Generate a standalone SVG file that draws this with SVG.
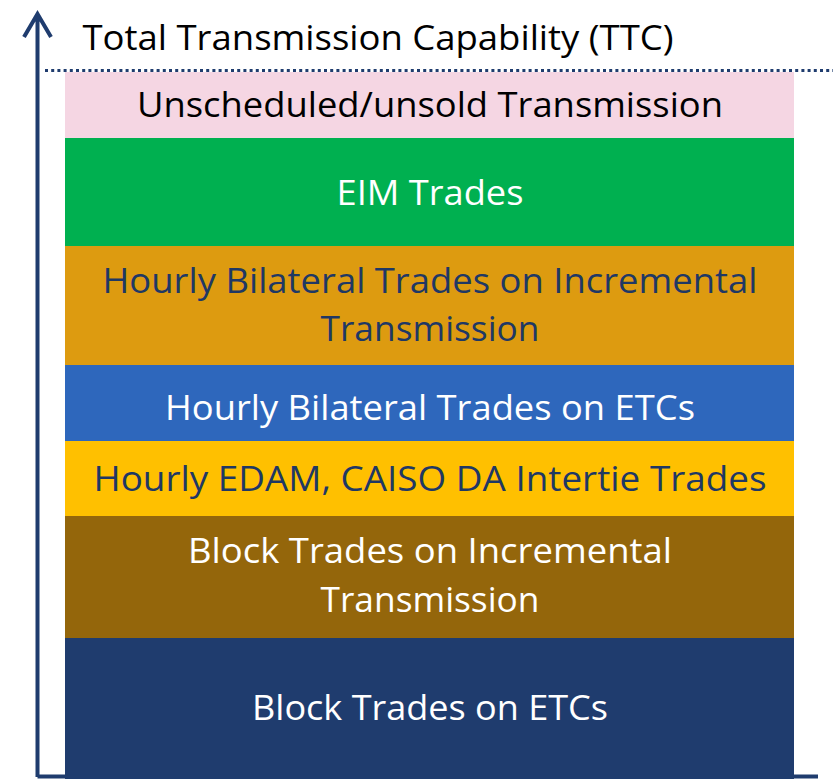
<svg xmlns="http://www.w3.org/2000/svg" width="833" height="779" viewBox="0 0 833 779">
<defs>
<style>
text{font-family:"Open Sans","Liberation Sans",sans-serif;font-size:34px;text-anchor:middle}
.w{fill:#FFFFFF}.n{fill:#1F3864}.k{fill:#000000}
.axis{stroke:#1F3C6E;stroke-width:4;fill:none}
</style>
</defs>
<rect width="833" height="779" fill="#FFFFFF"/>
<g id="bar-unscheduled"><rect x="65" y="72" width="729" height="66" fill="#F5D6E3"/><text class="k" x="430" y="117" textLength="586" lengthAdjust="spacingAndGlyphs">Unscheduled/unsold Transmission</text></g>
<g id="bar-eim"><rect x="65" y="138" width="729" height="108" fill="#00B050"/><text class="w" x="430" y="205" textLength="187" lengthAdjust="spacingAndGlyphs">EIM Trades</text></g>
<g id="bar-hourly-incr"><rect x="65" y="246" width="729" height="119" fill="#DD9B10"/><text class="n" x="430" y="293" textLength="655" lengthAdjust="spacingAndGlyphs">Hourly Bilateral Trades on Incremental</text><text class="n" x="430" y="341" textLength="219" lengthAdjust="spacingAndGlyphs">Transmission</text></g>
<g id="bar-hourly-etc"><rect x="65" y="365" width="729" height="76" fill="#2E67BC"/><text class="w" x="430" y="420" textLength="530" lengthAdjust="spacingAndGlyphs">Hourly Bilateral Trades on ETCs</text></g>
<g id="bar-edam"><rect x="65" y="441" width="729" height="75" fill="#FFC000"/><text class="n" x="430" y="491" textLength="673" lengthAdjust="spacingAndGlyphs">Hourly EDAM, CAISO DA Intertie Trades</text></g>
<g id="bar-block-incr"><rect x="65" y="516" width="729" height="122" fill="#94660B"/><text class="w" x="430" y="563" textLength="484" lengthAdjust="spacingAndGlyphs">Block Trades on Incremental</text><text class="w" x="430" y="612" textLength="219" lengthAdjust="spacingAndGlyphs">Transmission</text></g>
<g id="bar-block-etc"><rect x="65" y="638" width="729" height="141" fill="#1F3C6E"/><text class="w" x="430" y="720" textLength="356" lengthAdjust="spacingAndGlyphs">Block Trades on ETCs</text></g>
<g id="connectors">
<path class="axis" d="M37.5 777 V14 M24 37 L37.5 14 L51 37"/>
<path class="axis" d="M37.5 776.5 H818" stroke-width="3"/>
<line x1="45" y1="70.5" x2="833" y2="70.5" stroke="#1F3C6E" stroke-width="3" stroke-dasharray="3 3.2"/>
</g>
<g id="label-ttc"><text class="k" x="378" y="50" textLength="591" lengthAdjust="spacingAndGlyphs">Total Transmission Capability (TTC)</text></g>
</svg>
